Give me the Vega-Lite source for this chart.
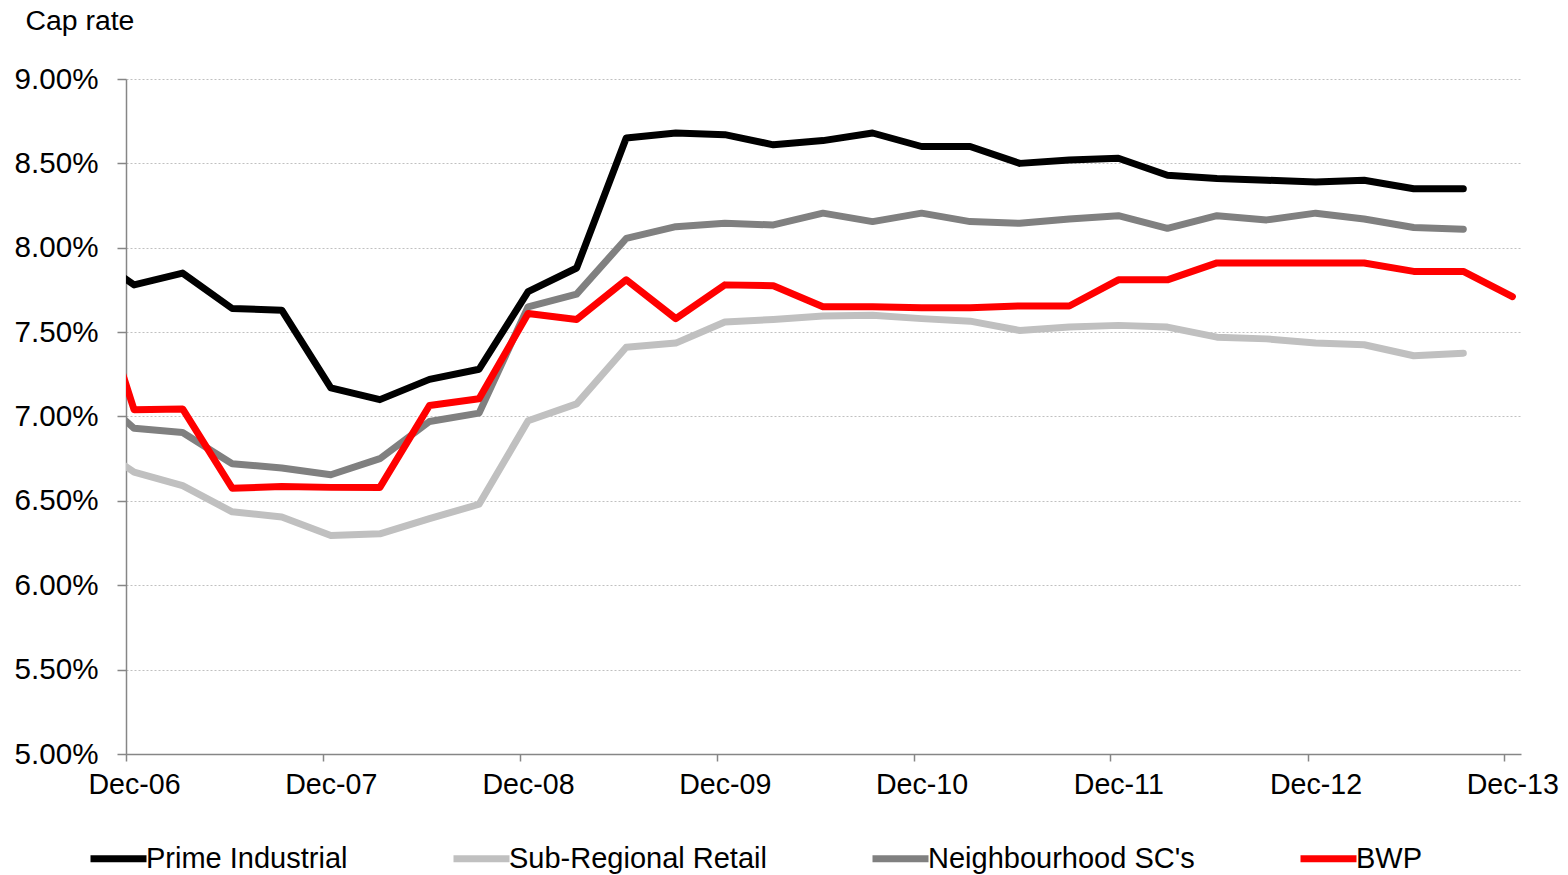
{
  "$schema": "https://vega.github.io/schema/vega-lite/v6.json",
  "width": 1395,
  "height": 675,
  "autosize": {"type": "none"},
  "padding": {"left": 126, "top": 79, "right": 47, "bottom": 121},
  "background": "white",
  "config": {"view": {"stroke": null}, "font": "Liberation Sans"},
  "data": {
    "values": [
      {"date": "2006-09-16", "series": "Prime Industrial", "rate": 0.0798},
      {"date": "2006-12-16", "series": "Prime Industrial", "rate": 0.0778},
      {"date": "2007-03-16", "series": "Prime Industrial", "rate": 0.0785},
      {"date": "2007-06-16", "series": "Prime Industrial", "rate": 0.0764},
      {"date": "2007-09-16", "series": "Prime Industrial", "rate": 0.0763},
      {"date": "2007-12-16", "series": "Prime Industrial", "rate": 0.0717},
      {"date": "2008-03-16", "series": "Prime Industrial", "rate": 0.0710},
      {"date": "2008-06-16", "series": "Prime Industrial", "rate": 0.0722},
      {"date": "2008-09-16", "series": "Prime Industrial", "rate": 0.0728},
      {"date": "2008-12-16", "series": "Prime Industrial", "rate": 0.0774},
      {"date": "2009-03-16", "series": "Prime Industrial", "rate": 0.0788},
      {"date": "2009-06-16", "series": "Prime Industrial", "rate": 0.0865},
      {"date": "2009-09-16", "series": "Prime Industrial", "rate": 0.0868},
      {"date": "2009-12-16", "series": "Prime Industrial", "rate": 0.0867},
      {"date": "2010-03-16", "series": "Prime Industrial", "rate": 0.0861},
      {"date": "2010-06-16", "series": "Prime Industrial", "rate": 0.08635},
      {"date": "2010-09-16", "series": "Prime Industrial", "rate": 0.0868},
      {"date": "2010-12-16", "series": "Prime Industrial", "rate": 0.0860},
      {"date": "2011-03-16", "series": "Prime Industrial", "rate": 0.0860},
      {"date": "2011-06-16", "series": "Prime Industrial", "rate": 0.0850},
      {"date": "2011-09-16", "series": "Prime Industrial", "rate": 0.0852},
      {"date": "2011-12-16", "series": "Prime Industrial", "rate": 0.0853},
      {"date": "2012-03-16", "series": "Prime Industrial", "rate": 0.0843},
      {"date": "2012-06-16", "series": "Prime Industrial", "rate": 0.0841},
      {"date": "2012-09-16", "series": "Prime Industrial", "rate": 0.0840},
      {"date": "2012-12-16", "series": "Prime Industrial", "rate": 0.0839},
      {"date": "2013-03-16", "series": "Prime Industrial", "rate": 0.0840},
      {"date": "2013-06-16", "series": "Prime Industrial", "rate": 0.0835},
      {"date": "2013-09-16", "series": "Prime Industrial", "rate": 0.0835},

      {"date": "2006-09-16", "series": "Sub-Regional Retail", "rate": 0.0687},
      {"date": "2006-12-16", "series": "Sub-Regional Retail", "rate": 0.0667},
      {"date": "2007-03-16", "series": "Sub-Regional Retail", "rate": 0.0659},
      {"date": "2007-06-16", "series": "Sub-Regional Retail", "rate": 0.06435},
      {"date": "2007-09-16", "series": "Sub-Regional Retail", "rate": 0.06405},
      {"date": "2007-12-16", "series": "Sub-Regional Retail", "rate": 0.06295},
      {"date": "2008-03-16", "series": "Sub-Regional Retail", "rate": 0.06305},
      {"date": "2008-06-16", "series": "Sub-Regional Retail", "rate": 0.06395},
      {"date": "2008-09-16", "series": "Sub-Regional Retail", "rate": 0.0648},
      {"date": "2008-12-16", "series": "Sub-Regional Retail", "rate": 0.06975},
      {"date": "2009-03-16", "series": "Sub-Regional Retail", "rate": 0.07075},
      {"date": "2009-06-16", "series": "Sub-Regional Retail", "rate": 0.0741},
      {"date": "2009-09-16", "series": "Sub-Regional Retail", "rate": 0.07435},
      {"date": "2009-12-16", "series": "Sub-Regional Retail", "rate": 0.0756},
      {"date": "2010-03-16", "series": "Sub-Regional Retail", "rate": 0.07575},
      {"date": "2010-06-16", "series": "Sub-Regional Retail", "rate": 0.07595},
      {"date": "2010-09-16", "series": "Sub-Regional Retail", "rate": 0.0760},
      {"date": "2010-12-16", "series": "Sub-Regional Retail", "rate": 0.0758},
      {"date": "2011-03-16", "series": "Sub-Regional Retail", "rate": 0.07565},
      {"date": "2011-06-16", "series": "Sub-Regional Retail", "rate": 0.0751},
      {"date": "2011-09-16", "series": "Sub-Regional Retail", "rate": 0.0753},
      {"date": "2011-12-16", "series": "Sub-Regional Retail", "rate": 0.0754},
      {"date": "2012-03-16", "series": "Sub-Regional Retail", "rate": 0.0753},
      {"date": "2012-06-16", "series": "Sub-Regional Retail", "rate": 0.0747},
      {"date": "2012-09-16", "series": "Sub-Regional Retail", "rate": 0.0746},
      {"date": "2012-12-16", "series": "Sub-Regional Retail", "rate": 0.07435},
      {"date": "2013-03-16", "series": "Sub-Regional Retail", "rate": 0.07425},
      {"date": "2013-06-16", "series": "Sub-Regional Retail", "rate": 0.0736},
      {"date": "2013-09-16", "series": "Sub-Regional Retail", "rate": 0.07375},

      {"date": "2006-09-16", "series": "Neighbourhood SC's", "rate": 0.0719},
      {"date": "2006-12-16", "series": "Neighbourhood SC's", "rate": 0.0693},
      {"date": "2007-03-16", "series": "Neighbourhood SC's", "rate": 0.06905},
      {"date": "2007-06-16", "series": "Neighbourhood SC's", "rate": 0.0672},
      {"date": "2007-09-16", "series": "Neighbourhood SC's", "rate": 0.06695},
      {"date": "2007-12-16", "series": "Neighbourhood SC's", "rate": 0.06655},
      {"date": "2008-03-16", "series": "Neighbourhood SC's", "rate": 0.0675},
      {"date": "2008-06-16", "series": "Neighbourhood SC's", "rate": 0.0697},
      {"date": "2008-09-16", "series": "Neighbourhood SC's", "rate": 0.0702},
      {"date": "2008-12-16", "series": "Neighbourhood SC's", "rate": 0.0765},
      {"date": "2009-03-16", "series": "Neighbourhood SC's", "rate": 0.07725},
      {"date": "2009-06-16", "series": "Neighbourhood SC's", "rate": 0.08055},
      {"date": "2009-09-16", "series": "Neighbourhood SC's", "rate": 0.08125},
      {"date": "2009-12-16", "series": "Neighbourhood SC's", "rate": 0.08145},
      {"date": "2010-03-16", "series": "Neighbourhood SC's", "rate": 0.08135},
      {"date": "2010-06-16", "series": "Neighbourhood SC's", "rate": 0.08205},
      {"date": "2010-09-16", "series": "Neighbourhood SC's", "rate": 0.08155},
      {"date": "2010-12-16", "series": "Neighbourhood SC's", "rate": 0.08205},
      {"date": "2011-03-16", "series": "Neighbourhood SC's", "rate": 0.08155},
      {"date": "2011-06-16", "series": "Neighbourhood SC's", "rate": 0.08145},
      {"date": "2011-09-16", "series": "Neighbourhood SC's", "rate": 0.0817},
      {"date": "2011-12-16", "series": "Neighbourhood SC's", "rate": 0.0819},
      {"date": "2012-03-16", "series": "Neighbourhood SC's", "rate": 0.08115},
      {"date": "2012-06-16", "series": "Neighbourhood SC's", "rate": 0.0819},
      {"date": "2012-09-16", "series": "Neighbourhood SC's", "rate": 0.08165},
      {"date": "2012-12-16", "series": "Neighbourhood SC's", "rate": 0.08205},
      {"date": "2013-03-16", "series": "Neighbourhood SC's", "rate": 0.0817},
      {"date": "2013-06-16", "series": "Neighbourhood SC's", "rate": 0.0812},
      {"date": "2013-09-16", "series": "Neighbourhood SC's", "rate": 0.0811},

      {"date": "2006-09-16", "series": "BWP", "rate": 0.0795},
      {"date": "2006-12-16", "series": "BWP", "rate": 0.0704},
      {"date": "2007-03-16", "series": "BWP", "rate": 0.07045},
      {"date": "2007-06-16", "series": "BWP", "rate": 0.06575},
      {"date": "2007-09-16", "series": "BWP", "rate": 0.06585},
      {"date": "2007-12-16", "series": "BWP", "rate": 0.0658},
      {"date": "2008-03-16", "series": "BWP", "rate": 0.0658},
      {"date": "2008-06-16", "series": "BWP", "rate": 0.07065},
      {"date": "2008-09-16", "series": "BWP", "rate": 0.07105},
      {"date": "2008-12-16", "series": "BWP", "rate": 0.0761},
      {"date": "2009-03-16", "series": "BWP", "rate": 0.07575},
      {"date": "2009-06-16", "series": "BWP", "rate": 0.0781},
      {"date": "2009-09-16", "series": "BWP", "rate": 0.0758},
      {"date": "2009-12-16", "series": "BWP", "rate": 0.0778},
      {"date": "2010-03-16", "series": "BWP", "rate": 0.07775},
      {"date": "2010-06-16", "series": "BWP", "rate": 0.0765},
      {"date": "2010-09-16", "series": "BWP", "rate": 0.0765},
      {"date": "2010-12-16", "series": "BWP", "rate": 0.07645},
      {"date": "2011-03-16", "series": "BWP", "rate": 0.07645},
      {"date": "2011-06-16", "series": "BWP", "rate": 0.07655},
      {"date": "2011-09-16", "series": "BWP", "rate": 0.07655},
      {"date": "2011-12-16", "series": "BWP", "rate": 0.0781},
      {"date": "2012-03-16", "series": "BWP", "rate": 0.0781},
      {"date": "2012-06-16", "series": "BWP", "rate": 0.0791},
      {"date": "2012-09-16", "series": "BWP", "rate": 0.0791},
      {"date": "2012-12-16", "series": "BWP", "rate": 0.0791},
      {"date": "2013-03-16", "series": "BWP", "rate": 0.0791},
      {"date": "2013-06-16", "series": "BWP", "rate": 0.0786},
      {"date": "2013-09-16", "series": "BWP", "rate": 0.0786},
      {"date": "2013-12-16", "series": "BWP", "rate": 0.0771}
    ]
  },
  "mark": {"type": "line", "strokeWidth": 7, "strokeCap": "round", "strokeJoin": "round", "clip": true},
  "encoding": {
    "x": {
      "field": "date",
      "type": "temporal",
      "scale": {
        "type": "utc",
        "domain": [
          {"year": 2006, "month": 12, "date": 1, "utc": true},
          {"year": 2014, "month": 1, "date": 1, "utc": true}
        ]
      },
      "axis": {
        "title": null,
        "grid": false,
        "values": [
          {"year": 2006, "month": 12, "date": 1, "utc": true},
          {"year": 2007, "month": 12, "date": 1, "utc": true},
          {"year": 2008, "month": 12, "date": 1, "utc": true},
          {"year": 2009, "month": 12, "date": 1, "utc": true},
          {"year": 2010, "month": 12, "date": 1, "utc": true},
          {"year": 2011, "month": 12, "date": 1, "utc": true},
          {"year": 2012, "month": 12, "date": 1, "utc": true},
          {"year": 2013, "month": 12, "date": 1, "utc": true}
        ],
        "format": "%b-%y",
        "labelOffset": 8,
        "labelOverlap": false,
        "labelFlush": false,
        "labelBound": false,
        "tickSize": 7,
        "tickWidth": 1.5,
        "tickColor": "#868686",
        "domainColor": "#868686",
        "domainWidth": 1.5,
        "labelFont": "Liberation Sans",
        "labelFontSize": 28.6,
        "labelColor": "#000000",
        "labelPadding": 9
      }
    },
    "y": {
      "field": "rate",
      "type": "quantitative",
      "scale": {"domain": [0.05, 0.09], "nice": false, "zero": false},
      "axis": {
        "values": [0.05, 0.055, 0.06, 0.065, 0.07, 0.075, 0.08, 0.085, 0.09],
        "format": ".2%",
        "grid": true,
        "gridDash": [2, 2],
        "gridColor": "#c0c0c0",
        "gridWidth": 1,
        "tickSize": 9,
        "tickWidth": 1.5,
        "tickColor": "#868686",
        "domainColor": "#868686",
        "domainWidth": 1.5,
        "labelFont": "Liberation Sans",
        "labelFontSize": 29.6,
        "labelColor": "#000000",
        "labelPadding": 19,
        "title": "Cap rate",
        "titleAngle": 0,
        "titleX": -101,
        "titleY": -59,
        "titleAlign": "left",
        "titleBaseline": "middle",
        "titleFont": "Liberation Sans",
        "titleFontSize": 28.4,
        "titleFontWeight": "normal",
        "titleColor": "#000000"
      }
    },
    "color": {
      "field": "series",
      "type": "nominal",
      "sort": ["Prime Industrial", "Sub-Regional Retail", "Neighbourhood SC's", "BWP"],
      "scale": {
        "domain": ["Prime Industrial", "Sub-Regional Retail", "Neighbourhood SC's", "BWP"],
        "range": ["#000000", "#c0c0c0", "#808080", "#ff0000"]
      },
      "legend": {
        "orient": "none",
        "legendX": -39,
        "legendY": 748,
        "direction": "horizontal",
        "title": null,
        "symbolType": "stroke",
        "symbolSize": 3136,
        "symbolStrokeWidth": 7,
        "labelFont": "Liberation Sans",
        "labelFontSize": 29,
        "labelColor": "#000000",
        "labelOffset": -4,
        "labelLimit": 400,
        "columnPadding": 91
      }
    }
  }
}
